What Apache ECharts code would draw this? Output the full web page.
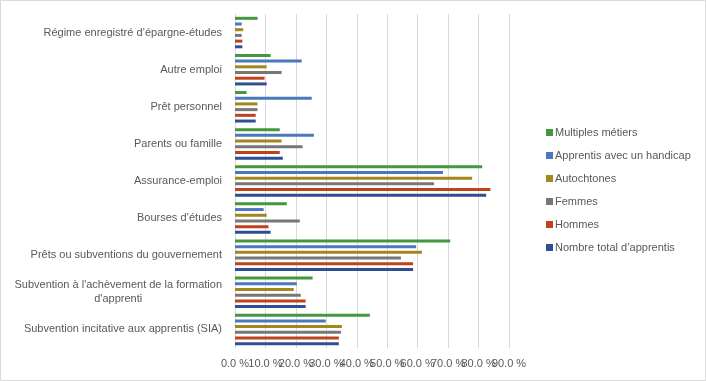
<!DOCTYPE html>
<html><head><meta charset="utf-8">
<script src="https://cdn.jsdelivr.net/npm/echarts@6/dist/echarts.min.js"></script>
<style>html,body{margin:0;padding:0;background:#fff}#c{width:706px;height:381px}</style>
</head><body><div id="c"></div>
<script>
const categories = [
  "Régime enregistré d’épargne-études",
  "Autre emploi",
  "Prêt personnel",
  "Parents ou famille",
  "Assurance-emploi",
  "Bourses d’études",
  "Prêts ou subventions du gouvernement",
  "Subvention à l'achèvement de la formation d'apprenti",
  "Subvention incitative aux apprentis (SIA)"
];
const multiplesMetiers = [7.4, 11.7, 3.8, 14.7, 81.2, 17.0, 70.7, 25.5, 44.3];
const handicap        = [2.2, 21.9, 25.2, 25.9, 68.3, 9.4, 59.5, 20.3, 29.8];
const autochtones     = [2.7, 10.4, 7.4, 15.3, 77.9, 10.4, 61.4, 19.3, 35.1];
const femmes          = [2.2, 15.3, 7.4, 22.2, 65.4, 21.3, 54.5, 21.6, 34.8];
const hommes          = [2.4, 9.7, 6.8, 14.7, 83.9, 11.0, 58.5, 23.2, 34.1];
const total           = [2.4, 10.4, 6.8, 15.7, 82.5, 11.7, 58.5, 23.2, 34.1];
const seriesNames = ["Multiples métiers", "Apprentis avec un handicap", "Autochtones", "Femmes", "Hommes", "Nombre total d’apprentis"];
const seriesData = [multiplesMetiers, handicap, autochtones, femmes, hommes, total];
const colors = ['#43983f', '#4b77be', '#a3861c', '#777777', '#c0421b', '#2f5090'];
const xMin = 0, xMax = 90, xStep = 10;
const secondaryTicks = [10, 80];

const FONT = '"Liberation Sans", Arial, sans-serif';
const chart = echarts.init(document.getElementById('c'));
function fmtCat(v) {
  if (v.length <= 45) return v;
  const words = v.split(' ');
  let l1 = '', i = 0;
  while (i < words.length && (l1 + (l1 ? ' ' : '') + words[i]).length <= 42) { l1 += (l1 ? ' ' : '') + words[i]; i++; }
  return '{c|' + l1 + '}\n{c|' + words.slice(i).join(' ') + '}';
}
const pct = v => v.toFixed(1) + ' %';
const baseX = {
  type: 'value', min: xMin, max: xMax, interval: xStep, position: 'bottom', offset: 0,
  axisLine: { show: false }, axisTick: { show: false }
};
chart.setOption({
  animation: false,
  textStyle: { fontFamily: FONT },
  color: colors,
  graphic: [{ type: 'rect', shape: { x: 0.5, y: 0.5, width: 705, height: 380 }, style: { fill: 'none', stroke: '#d9d9d9', lineWidth: 1 } }],
  grid: { left: 235, right: 197, top: 14, bottom: 33, containLabel: false, outerBoundsMode: 'none' },
  legend: {
    orient: 'vertical', left: 541, top: 122, itemWidth: 7, itemHeight: 7, itemGap: 12,
    icon: 'rect', data: seriesNames,
    textStyle: { color: '#595959', fontSize: 11, fontFamily: FONT, padding: [0, 0, 0, -3] }
  },
  xAxis: [
    Object.assign({}, baseX, {
      splitLine: { lineStyle: { color: '#d9d9d9' } },
      axisLabel: { color: '#595959', fontSize: 11, margin: 10, showMinLabel: true, showMaxLabel: true,
        formatter: v => secondaryTicks.includes(v) ? '' : pct(v) }
    }),
    Object.assign({}, baseX, {
      splitLine: { show: false },
      axisLabel: { color: '#595959', fontSize: 11, margin: 10, showMinLabel: true, showMaxLabel: true,
        formatter: v => secondaryTicks.includes(v) ? pct(v) : '' }
    })
  ],
  yAxis: {
    type: 'category', inverse: true, data: categories,
    axisLine: { lineStyle: { color: '#d9d9d9' } }, axisTick: { show: false },
    axisLabel: {
      color: '#595959', fontSize: 11, margin: 13, lineHeight: 14, formatter: fmtCat,
      rich: { c: { align: 'center', color: '#595959', fontSize: 11, lineHeight: 14, fontFamily: FONT } }
    }
  },
  series: seriesNames.map((n, i) => ({
    name: n, type: 'bar', data: seriesData[i], barWidth: 3, barGap: '90%', xAxisIndex: 0
  }))
});
</script></body></html>
